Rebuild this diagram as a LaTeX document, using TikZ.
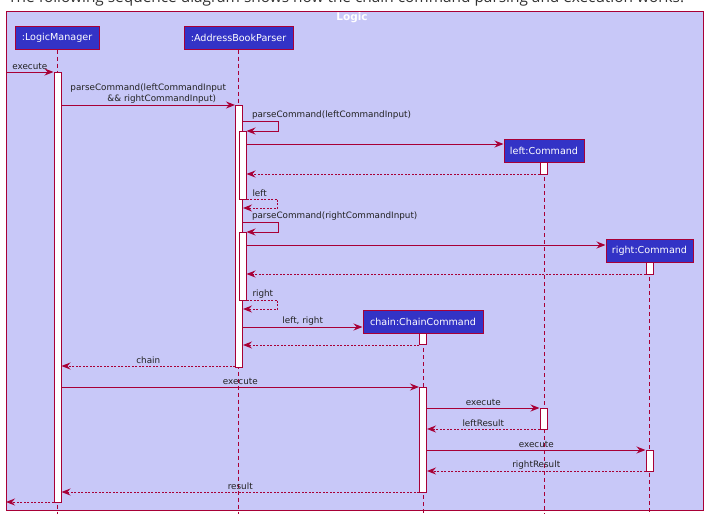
\documentclass[tikz,border=0pt]{standalone}
\usepackage{fontspec}
\setmainfont{DejaVu Sans}
\newfontfamily\titlefont{Open Sans}
\usetikzlibrary{positioning,arrows.meta,calc}
\definecolor{umlred}{HTML}{A80036}
\definecolor{umlblue}{HTML}{3333C6}
\definecolor{logicbg}{HTML}{C8C8F8}
\definecolor{msgtext}{HTML}{222222}

\begin{document}
\begin{tikzpicture}[x=1pt,y=-1pt,
  part/.style={draw=umlred, fill=umlblue, text=white, line width=1pt, inner sep=0pt, minimum height=23pt, font=\fontsize{9.6}{11}\selectfont},
  act/.style={draw=umlred, fill=white, line width=1pt, inner sep=0pt, minimum width=7pt},
  life/.style={draw=umlred, line width=0.9pt, dash pattern=on 4pt off 3pt},
  msg/.style={-{Stealth[length=9pt,width=7pt,inset=3pt]}, draw=umlred, line width=1pt},
  ret/.style={msg, dash pattern=on 2pt off 1.5pt},
  lbl/.style={font=\fontsize{8.8}{10.5}\selectfont, text=msgtext, inner sep=1.5pt}]
\useasboundingbox (0,0) rectangle (715,525);
\node[anchor=base west, font=\titlefont\fontsize{15.4}{17}\selectfont, text=black!80, inner sep=0pt] (title) at (8,2.5) {The following sequence diagram shows how the chain command parsing and execution works.};
\draw[draw=umlred, fill=logicbg, line width=1pt] (6,11) rectangle (703,510);
\node[text=white, font=\bfseries\fontsize{10.5}{12}\selectfont] (logic) at (352,18) {Logic};
\node[part, minimum width=84pt] (lm) at (57,37.5) {:LogicManager};
\node[part, minimum width=109pt] (ap) at (238.5,37.5) {:AddressBookParser};
\node[part, minimum width=80pt] (left) at (544,151) {left:Command};
\node[part, minimum width=87pt] (right) at (649.5,251) {right:Command};
\node[part, minimum width=120pt] (chain) at (423,322) {chain:ChainCommand};
\draw[life] (lm) -- (lm |- 0,514);
\draw[life] (ap) -- (ap |- 0,514);
\draw[life] (left) -- (left |- 0,514);
\draw[life] (right) -- (right |- 0,514);
\draw[life] (chain) -- (chain |- 0,514);
\node[act, minimum height=430pt] (lmA) at (57.5,287) {};
\node[act, minimum height=262pt] (apA) at (239,236) {};
\node[act, minimum height=68pt] (apB) at (242.5,165) {};
\node[act, minimum height=68pt] (apC) at (242.5,266) {};
\node[act, minimum height=12pt] (leftA) at (543.5,168) {};
\node[act, minimum height=12pt] (rightA) at (649.5,268) {};
\node[act, minimum height=11pt] (chainA) at (423,338.5) {};
\node[act, minimum height=105pt] (chainB) at (423,439.5) {};
\node[act, minimum height=21pt] (leftB) at (543.5,418.5) {};
\node[act, minimum height=21pt] (rightB) at (649.5,460.5) {};
\coordinate (in) at (6,72);
\coordinate (out) at (6,502);
\draw[msg] (in) -- node[lbl, above]{execute} (lmA.west |- in);
\draw[msg] (lmA.east |- 0,105) -- node[lbl, above, align=left]{parseCommand(leftCommandInput\\\hspace*{37pt}\&\& rightCommandInput)} (apA.west |- 0,105);
\draw[msg] (apA.east |- 0,121) node[lbl, anchor=south west, xshift=7pt]{parseCommand(leftCommandInput)} -- ++(35,0) |- (apB.east |- 0,131);
\draw[msg] (apB.east |- 0,144) -- (left.west |- 0,144);
\draw[ret] (leftA.west |- 0,174) -- (apB.east |- 0,174);
\draw[ret] (apB.east |- 0,199) node[lbl, anchor=south west, xshift=4pt]{left} -- ++(31,0) |- (apA.east |- 0,208);
\draw[msg] (apA.east |- 0,222) node[lbl, anchor=south west, xshift=7pt]{parseCommand(rightCommandInput)} -- ++(35,0) |- (apC.east |- 0,232);
\draw[msg] (apC.east |- 0,245) -- (right.west |- 0,245);
\draw[ret] (rightA.west |- 0,274) -- (apC.east |- 0,274);
\draw[ret] (apC.east |- 0,300) node[lbl, anchor=south west, xshift=4pt]{right} -- ++(31,0) |- (apA.east |- 0,309);
\draw[msg] (apA.east |- 0,327) -- node[lbl, above]{left, right} (chain.west |- 0,327);
\draw[ret] (chainA.west |- 0,345) -- (apA.east |- 0,345);
\draw[ret] (apA.west |- 0,366) -- node[lbl, above]{chain} (lmA.east |- 0,366);
\draw[msg] (lmA.east |- 0,387) -- node[lbl, above]{execute} (chainB.west |- 0,387);
\draw[msg] (chainB.east |- 0,408) -- node[lbl, above]{execute} (leftB.west |- 0,408);
\draw[ret] (leftB.west |- 0,429) -- node[lbl, above]{leftResult} (chainB.east |- 0,429);
\draw[msg] (chainB.east |- 0,450) -- node[lbl, above]{execute} (rightB.west |- 0,450);
\draw[ret] (rightB.west |- 0,471) -- node[lbl, above]{rightResult} (chainB.east |- 0,471);
\draw[ret] (chainB.west |- 0,492) -- node[lbl, above]{result} (lmA.east |- 0,492);
\draw[ret] (lmA.west |- out) -- (out);
\end{tikzpicture}
\end{document}
